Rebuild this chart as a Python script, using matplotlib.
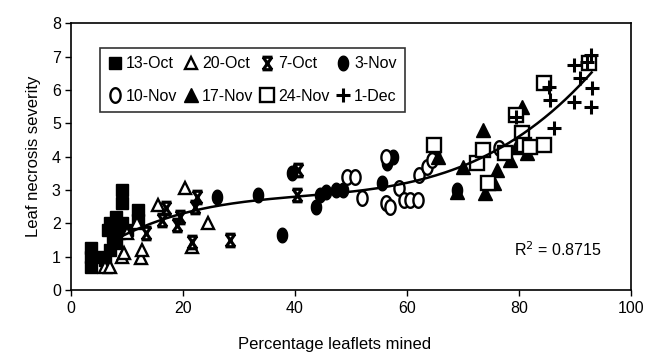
import numpy as np
import matplotlib
matplotlib.use("Agg")
import matplotlib.pyplot as plt
from matplotlib.path import Path

plt.rcParams['font.family'] = ['Liberation Sans', 'DejaVu Sans']

# data
oct13_x = [3.5, 3.5, 3.5, 5.5, 6, 6.5, 7, 7, 7.5, 8, 8, 8, 8.5, 9, 9, 9, 10, 12, 12]
oct13_y = [0.7, 1.0, 1.25, 1.0, 0.9, 1.8, 2.0, 1.2, 1.6, 2.0, 2.2, 1.4, 1.7, 3.0, 2.6, 2.0, 1.8, 2.4, 2.1]

oct20_x = [6, 7, 9, 9.5, 10, 11.7, 12.5, 12.6, 15.5, 20.3, 21.6, 24.4]
oct20_y = [0.7, 0.7, 1.0, 1.1, 1.7, 2.0, 0.95, 1.2, 2.55, 3.05, 1.3, 2.0]

oct7_x = [13.4, 16.2, 17, 18.9, 19.5, 22.2, 22.4, 21.6, 28.3, 40.3, 40.5]
oct7_y = [1.7, 2.1, 2.45, 1.95, 2.2, 2.5, 2.8, 1.45, 1.5, 2.85, 3.6]

nov3_x = [26, 33.3, 37.6, 39.4, 43.8, 44.4, 45.6, 47.4, 48.5, 55.5, 56.5, 57.5, 65, 69]
nov3_y = [2.8, 2.85, 1.65, 3.5, 2.5, 2.85, 2.95, 3.0, 3.0, 3.2, 3.8, 4.0, 4.1, 3.0]

nov10_x = [49.2, 50.8, 52, 56.3, 56.3, 57, 58.5, 59.5, 60.5, 62, 62.2, 63.6, 64.5, 76.5]
nov10_y = [3.4, 3.4, 2.75, 4.0, 2.6, 2.5, 3.05, 2.7, 2.7, 2.7, 3.45, 3.7, 3.9, 4.25]

nov17_x = [65.5, 69, 70, 73.5, 74, 75.5, 76, 78.5, 79.5, 80.5, 81.5]
nov17_y = [4.0, 2.95, 3.7, 4.8, 2.9, 3.2, 3.6, 3.9, 4.3, 5.5, 4.1]

nov24_x = [64.8, 72.5, 73.5, 74.5, 77.5, 79.5, 80.5, 81, 82, 84.5, 84.5, 92.5]
nov24_y = [4.35, 3.8, 4.2, 3.2, 4.1, 5.25, 4.7, 4.35, 4.3, 4.35, 6.2, 6.8]

dec1_x = [79.5, 85.4, 85.5, 86.3, 89.8, 89.8, 91, 92.2, 92.9, 93, 92.9]
dec1_y = [5.2, 6.1, 5.7, 4.85, 6.75, 5.65, 6.35, 6.85, 7.05, 6.05, 5.5]

r2_label = "R$^2$ = 0.8715"

# custom markers
t = np.linspace(0, 2 * np.pi, 40)
ellipse = Path(np.column_stack([0.7 * np.cos(t), np.sin(t)]), closed=True)
xbar = Path([(-0.8, 1), (0.8, 1), (-0.7, 1), (0.7, -1), (-0.8, -1), (0.8, -1), (0.7, 1), (-0.7, -1)],
            [Path.MOVETO, Path.LINETO, Path.MOVETO, Path.LINETO,
             Path.MOVETO, Path.LINETO, Path.MOVETO, Path.LINETO])

series = [
    ("13-Oct", oct13_x, oct13_y, dict(marker='s', ms=8.5, mfc='black', mec='black')),
    ("20-Oct", oct20_x, oct20_y, dict(marker='^', ms=9, mfc='white', mec='black', mew=1.7)),
    ("7-Oct", oct7_x, oct7_y, dict(marker=xbar, ms=9, mfc='none', mec='black', mew=2.3)),
    ("3-Nov", nov3_x, nov3_y, dict(marker=ellipse, ms=10.5, mfc='black', mec='black')),
    ("10-Nov", nov10_x, nov10_y, dict(marker=ellipse, ms=10.5, mfc='white', mec='black', mew=1.7)),
    ("17-Nov", nov17_x, nov17_y, dict(marker='^', ms=10.5, mfc='black', mec='black')),
    ("24-Nov", nov24_x, nov24_y, dict(marker='s', ms=9.5, mfc='white', mec='black', mew=1.7)),
    ("1-Dec", dec1_x, dec1_y, dict(marker='+', ms=10, mec='black', mew=2.2)),
]

fig = plt.figure(figsize=(6.47, 3.56), dpi=100)
ax = fig.add_axes([0.110, 0.185, 0.865, 0.750])

handles = {}
for name, xs, ys, style in series:
    h, = ax.plot(xs, ys, linestyle='none', **style)
    handles[name] = h

# cubic trend fitted to all points
all_x = np.concatenate([s[1] for s in series])
all_y = np.concatenate([s[2] for s in series])
coef = np.polyfit(all_x, all_y, 3)
xx = np.linspace(9, 93, 200)
ax.plot(xx, np.polyval(coef, xx), color='black', lw=1.8)

ax.set_xlim(0, 100)
ax.set_ylim(0, 8)
ax.set_xticks(range(0, 101, 20))
ax.set_yticks(range(0, 9))
ax.tick_params(labelsize=11.5, direction='out', length=4, width=1)
for sp in ax.spines.values():
    sp.set_linewidth(1.2)

ax.set_xlabel("Percentage leaflets mined", fontsize=12, labelpad=16)
ax.xaxis.set_label_coords(0.47, -0.175)
ax.set_ylabel("Leaf necrosis severity", fontsize=12, labelpad=8)

ax.text(0.87, 0.15, r2_label, transform=ax.transAxes, fontsize=11.5, ha='center', va='center')

order = ["13-Oct", "10-Nov", "20-Oct", "17-Nov", "7-Oct", "24-Nov", "3-Nov", "1-Dec"]
leg = ax.legend([handles[n] for n in order], order, ncol=4, loc='upper left',
                bbox_to_anchor=(0.052, 0.906), borderaxespad=0, fontsize=11.5,
                frameon=True, fancybox=False,
                handlelength=0.8, handletextpad=0.3, columnspacing=0.45, labelspacing=1.1,
                borderpad=0.5, edgecolor='black')
leg.get_frame().set_linewidth(1.2)

fig.savefig("out.png", dpi=100)
